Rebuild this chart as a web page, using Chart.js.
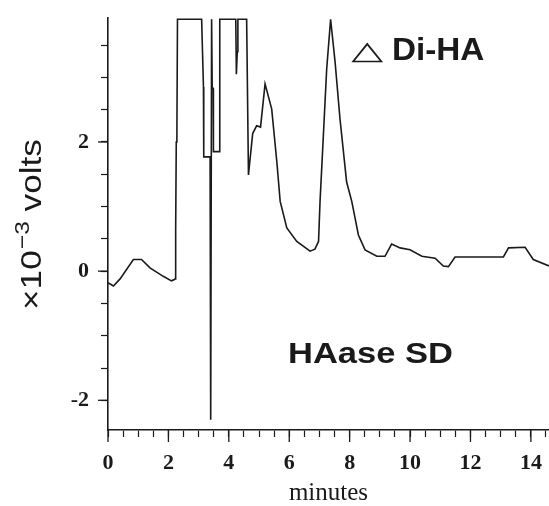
<!DOCTYPE html>
<html>
<head>
<meta charset="utf-8">
<script src="https://cdn.jsdelivr.net/npm/chart.js@4.4.1/dist/chart.umd.min.js"></script>
<style>
html,body{margin:0;padding:0;background:#fff;}
</style>
</head>
<body>
<canvas id="trace" width="549" height="506"></canvas>
<script>
// retention time (min) and detector signal (x10^-3 V)
var minutes=[0.00,0.18,0.40,0.84,1.11,1.39,1.83,2.10,2.20,2.22,2.23,2.25,2.26,2.28,2.30,
    3.10,3.16,3.17,3.38,3.40,3.43,3.45,3.48,3.49,3.69,3.70,4.23,4.25,4.28,4.30,4.59,4.65,
    4.79,4.92,5.05,5.20,5.42,5.59,5.70,5.92,6.25,6.69,6.85,6.97,7.02,7.13,7.24,7.37,7.52,
    7.68,7.90,8.07,8.29,8.51,8.90,9.17,9.39,9.67,10.00,10.39,10.83,11.10,11.27,11.49,
    13.09,13.26,13.81,14.08,14.60];
var volts=[-0.18,-0.23,-0.12,0.18,0.18,0.05,-0.08,-0.15,-0.13,-0.12,0.59,0.62,2.00,2.03,3.90,
    3.90,2.85,1.77,1.77,-2.30,3.90,2.83,2.83,1.85,1.85,3.90,3.90,3.05,3.40,3.90,3.90,1.49,
    2.13,2.25,2.23,2.90,2.51,1.69,1.08,0.67,0.46,0.31,0.34,0.46,1.08,2.10,3.13,3.90,3.23,
    2.36,1.38,1.08,0.56,0.33,0.23,0.23,0.42,0.36,0.33,0.23,0.20,0.08,0.07,0.22,
    0.22,0.36,0.37,0.18,0.08];
var xTickLabels=["0","2","4","6","8","10","12","14"];
var yTickLabels=["-2","0","2"];
var peakMark="\u25B3";
var peakLabel="Di-HA";
var sampleLabel="HAase SD";
var yTitle=["\u00D710","\u22123"," volts"];

var ink="#1a1a1a";
var points=minutes.map(function(m,i){return {x:m,y:volts[i]};});

function stretchText(c,txt,x,y,sx,sy){
    c.save();
    c.translate(x,y);
    c.scale(sx,sy||1);
    c.fillText(txt,0,0);
    c.restore();
}

var extras={
    id:"extras",
    afterDraw:function(chart){
        var c=chart.ctx,xs=chart.scales.x,ys=chart.scales.y;
        c.save();
        c.strokeStyle=ink;
        c.lineWidth=1.3;
        // longer major ticks
        xTickLabels.forEach(function(l){
            var px=xs.getPixelForValue(+l);
            c.beginPath();c.moveTo(px,xs.top);c.lineTo(px,xs.top+12);c.stroke();
        });
        yTickLabels.forEach(function(l){
            var py=ys.getPixelForValue(+l);
            c.beginPath();c.moveTo(ys.right,py);c.lineTo(ys.right-10,py);c.stroke();
        });
        c.fillStyle=ink;
        c.textBaseline="alphabetic";
        c.textAlign="left";
        var base=ys.getPixelForValue(3.27);
        c.font='32px "DejaVu Sans"';
        stretchText(c,peakMark,xs.getPixelForValue(8.05),base-1,1.3,0.8);
        c.font='bold 32px "Liberation Sans"';
        stretchText(c,peakLabel,xs.getPixelForValue(9.4),base,1.04);
        c.font='bold 30px "Liberation Sans"';
        stretchText(c,sampleLabel,xs.getPixelForValue(5.96),ys.getPixelForValue(-1.42),1.15);

        // y axis title with superscript exponent
        c.save();
        c.translate(41,ys.getPixelForValue(-0.6));
        c.rotate(-Math.PI/2);
        c.scale(1.17,1);
        var x=0;
        c.font='30px "Liberation Sans"';
        c.fillText(yTitle[0],x,0);x+=c.measureText(yTitle[0]).width+1;
        c.font='21px "Liberation Sans"';
        c.fillText(yTitle[1],x,-12);x+=c.measureText(yTitle[1]).width;
        c.font='30px "Liberation Sans"';
        c.fillText(yTitle[2],x,0);
        c.restore();
        c.restore();
    }
};

var chart=new Chart(document.getElementById("trace"),{
    type:"line",
    data:{
        datasets:[{
            label:"HAase SD",
            data:points,
            borderColor:ink,
            borderWidth:1.6,
            pointRadius:0,
            tension:0,
            fill:false
        }]
    },
    options:{
        responsive:false,
        animation:false,
        layout:{padding:{top:18,right:0,bottom:0,left:0}},
        plugins:{legend:{display:false},tooltip:{enabled:false}},
        scales:{
            x:{
                type:"linear",
                min:0,
                max:14.6,
                afterFit:function(s){s.height=76;s.paddingLeft=0;s.paddingRight=0;},
                border:{display:true,color:ink,width:1.6},
                grid:{drawOnChartArea:false,tickLength:7,tickColor:ink,tickWidth:1.2},
                ticks:{
                    stepSize:0.5,
                    includeBounds:false,
                    autoSkip:false,
                    maxRotation:0,
                    padding:13,
                    color:ink,
                    font:{family:"Liberation Serif",size:22,weight:"bold"},
                    callback:function(v){var s=String(v);return xTickLabels.indexOf(s)>=0?s:"";}
                },
                title:{display:true,text:"minutes",color:ink,padding:{top:0,bottom:0},
                    font:{family:"Liberation Serif",size:25,lineHeight:1}}
            },
            y:{
                min:-2.46,
                max:3.92,
                afterFit:function(s){s.width=108;s.paddingTop=0;s.paddingBottom=0;},
                border:{display:true,color:ink,width:1.6},
                grid:{drawOnChartArea:false,tickLength:7,tickColor:ink,tickWidth:1.2},
                ticks:{
                    stepSize:0.5,
                    includeBounds:false,
                    autoSkip:false,
                    padding:12,
                    color:ink,
                    font:{family:"Liberation Serif",size:22,weight:"bold"},
                    callback:function(v){var s=String(v);return yTickLabels.indexOf(s)>=0?s:"";}
                },
                title:{display:false}
            }
        }
    },
    plugins:[extras]
});
</script>
</body>
</html>
